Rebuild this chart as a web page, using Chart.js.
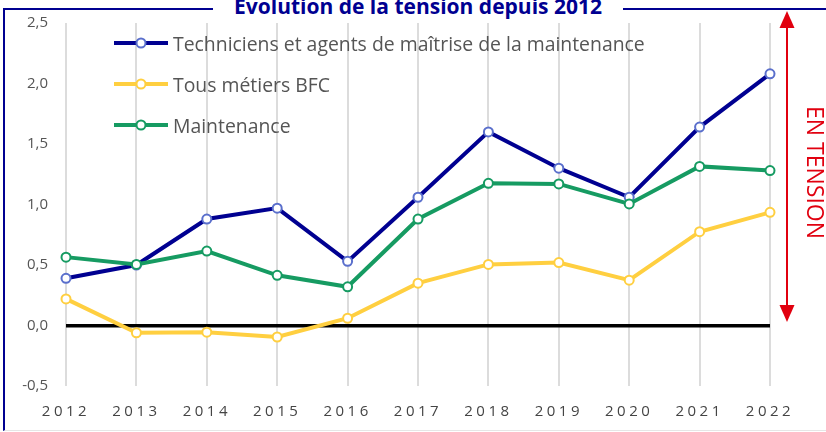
<!DOCTYPE html>
<html lang="fr">
<head>
<meta charset="utf-8">
<script src="https://cdn.jsdelivr.net/npm/chart.js@4.4.1/dist/chart.umd.min.js"></script>
<style>
  html, body { margin:0; padding:0; background:#fff; overflow:hidden; }
  #wrap { position:relative; width:826px; height:432px; overflow:hidden; background:#fff; font-family:"Open Sans", sans-serif; }
  #frame { position:absolute; left:3px; top:8px; width:900px; height:420px; border-left:2px solid #000091; border-top:2px solid #000091; border-bottom:1px solid #e6e6e6; }
  #title { position:absolute; left:213px; width:410px; top:-6px; height:24px; line-height:24px; background:#fff; color:#000091; font-weight:700; font-size:21px; text-align:center; white-space:nowrap; }
  canvas { position:absolute; left:0; top:0; }
  .leg { position:absolute; left:114px; height:20px; display:flex; align-items:center; color:#555; font-size:19.4px; white-space:nowrap; }
  .leg svg { display:block; margin-right:5px; }
  #arrow { position:absolute; left:0; top:0; }
  #tension { position:absolute; left:804px; top:106px; writing-mode:vertical-rl; color:#e1000f; font-size:23px; line-height:24px; white-space:nowrap; }
</style>
</head>
<body>
<div id="wrap">
  <div id="frame"></div>
  <div id="title">Evolution de la tension depuis 2012</div>
  <canvas id="c" width="826" height="432"></canvas>
  <div id="legend"></div>
  <svg id="arrow" width="826" height="432">
    <line x1="787" y1="24" x2="787" y2="310" stroke="#e1000f" stroke-width="2"/>
    <polygon points="787,11 779.5,28 794.5,28" fill="#e1000f"/>
    <polygon points="787,322 779.5,305 794.5,305" fill="#e1000f"/>
  </svg>
  <div id="tension">EN TENSION</div>
</div>
<script>
// ---- Data ----
const years = ['2012','2013','2014','2015','2016','2017','2018','2019','2020','2021','2022'];
const techniciens = [0.39, 0.50, 0.88, 0.97, 0.53, 1.06, 1.60, 1.30, 1.06, 1.64, 2.08];
const tousMetiers = [0.22, -0.06, -0.055, -0.095, 0.06, 0.35, 0.505, 0.52, 0.375, 0.775, 0.935];
const maintenance = [0.565, 0.505, 0.615, 0.415, 0.32, 0.88, 1.175, 1.17, 1.005, 1.315, 1.28];
const seriesNames = ['Techniciens et agents de maîtrise de la maintenance', 'Tous métiers BFC', 'Maintenance'];
const yTickLabels = ['-0,5', '0,0', '0,5', '1,0', '1,5', '2,0', '2,5'];

const colors = ['#000091', '#ffcf40', '#169b62'];
const pointBorders = ['#5a6fcc', '#ffcf40', '#169b62'];

// ---- Legend (HTML) ----
const legendTops = [33, 74, 115];
const legendEl = document.getElementById('legend');
seriesNames.forEach((name, i) => {
  const d = document.createElement('div');
  d.className = 'leg';
  d.style.top = legendTops[i] + 'px';
  d.innerHTML = '<svg width="54" height="14"><line x1="0" y1="7" x2="54" y2="7" stroke="' + colors[i] +
    '" stroke-width="4"/><circle cx="27" cy="7" r="4.5" fill="#fff" stroke="' + pointBorders[i] +
    '" stroke-width="2"/></svg><span>' + name + '</span>';
  legendEl.appendChild(d);
});

// letter-spacing for x labels
const xSpacing = {
  id: 'xSpacing',
  afterUpdate(chart) {
    const s = chart.scales.x;
    if (s && !s._spaced) {
      const orig = s.drawLabels;
      s.drawLabels = function (area) {
        const c = this.ctx;
        c.save();
        c.letterSpacing = '3.5px';
        orig.call(this, area);
        c.restore();
      };
      s._spaced = true;
    }
  }
};

function ds(label, data, i) {
  return {
    label, data,
    borderColor: colors[i],
    backgroundColor: colors[i],
    borderWidth: 4,
    pointRadius: 4.5,
    pointHoverRadius: 4.5,
    pointBorderWidth: 2,
    pointBorderColor: pointBorders[i],
    pointBackgroundColor: '#fff',
    tension: 0,
    clip: false
  };
}

new Chart(document.getElementById('c'), {
  type: 'line',
  data: {
    labels: years,
    datasets: [
      ds(seriesNames[0], techniciens, 0),
      ds(seriesNames[1], tousMetiers, 1),
      ds(seriesNames[2], maintenance, 2)
    ].reverse()
  },
  options: {
    responsive: false,
    animation: false,
    events: [],
    layout: { padding: { top: 23, right: 56, left: 0, bottom: 0 }, autoPadding: false },
    plugins: { legend: { display: false }, tooltip: { enabled: false } },
    scales: {
      x: {
        offset: false,
        afterFit: s => { s.height = 46; s.paddingLeft = 0; s.paddingRight = 0; },
        border: { display: false },
        grid: { color: '#dcdcdc', lineWidth: 2, drawTicks: false },
        ticks: { color: '#444', padding: 17, font: { family: 'Open Sans', size: 15 }, maxRotation: 0, autoSkip: false }
      },
      y: {
        min: -0.5, max: 2.5,
        afterFit: s => { s.width = 66; s.paddingTop = 0; s.paddingBottom = 0; },
        border: { display: false },
        grid: {
          drawTicks: false,
          color: c => (c.tick && c.tick.value === 0) ? '#000' : 'rgba(0,0,0,0)',
          lineWidth: c => (c.tick && c.tick.value === 0) ? 3.5 : 0
        },
        ticks: {
          stepSize: 0.5,
          padding: 18,
          color: '#555',
          font: { family: 'Open Sans', size: 15 },
          callback: (v, i) => yTickLabels[i]
        }
      }
    }
  },
  plugins: [xSpacing]
});
</script>
</body>
</html>
